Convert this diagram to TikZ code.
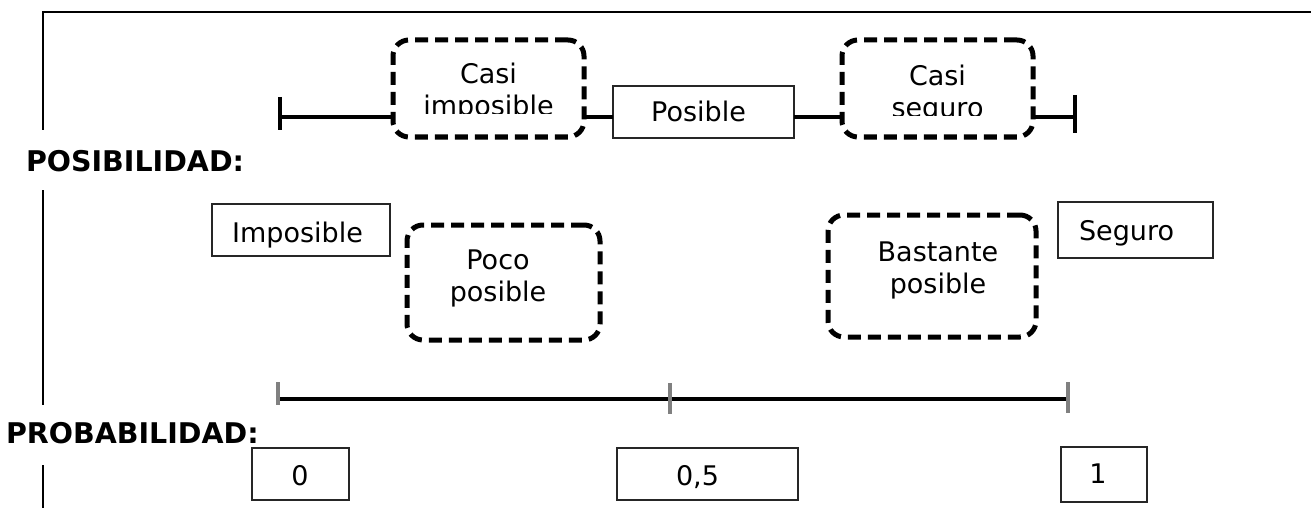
\documentclass[tikz,border=0pt]{standalone}
\usepackage{fontspec}
\setmainfont{DejaVu Sans}
\begin{document}
\begin{tikzpicture}[x=1pt,y=-1pt,
  every node/.style={inner sep=0pt, outer sep=0pt},
  plainbox/.style={draw=black!85, line width=1.6pt},
  dashbox/.style={draw=black, line width=5pt, dash pattern=on 13pt off 7pt, rounded corners=16pt},
  boxtext/.style={font=\fontsize{27}{32}\selectfont, align=center},
  heading/.style={font=\fontsize{28.5}{32}\selectfont\bfseries},
  scaleline/.style={line width=3.5pt},
  blacktick/.style={line width=4pt},
  graytick/.style={draw=gray, line width=3.5pt},
  framestyle/.style={line width=2.5pt}]
\useasboundingbox (0,0) rectangle (1311,508);

% frame around the two scales
\draw[framestyle] (43,130) -- (43,12) -- (1311,12);
\draw[framestyle] (43,190) -- (43,405);
\draw[framestyle] (43,465) -- (43,508);

% headings
\node[heading, anchor=base west] (hpos) at (26,171) {POSIBILIDAD:};
\node[heading, anchor=base west] (hprob) at (6,443) {PROBABILIDAD:};

% --- possibility scale ---
\coordinate (tl) at (280,117);
\coordinate (tr) at (1075,117);
\node[dashbox, minimum width=191pt, minimum height=97pt] (ci) at (488.5,88.5) {};
\node[plainbox, minimum width=181pt, minimum height=52pt] (pos) at (703.5,112) {};
\node[dashbox, minimum width=191pt, minimum height=97pt] (cs) at (937.5,88.5) {};
\draw[blacktick] (280,97) -- (280,130);
\draw[blacktick] (1075,95) -- (1075,133);
\draw[scaleline] (tl) -- (tl -| ci.west);
\draw[scaleline] (ci.east |- tl) -- (tl -| pos.west);
\draw[scaleline] (pos.east |- tl) -- (tl -| cs.west);
\draw[scaleline] (cs.east |- tl) -- (tr);

\begin{scope}
  \clip (393,40) rectangle (584,114);
  \node[boxtext] (citext) at (488.5,92) {Casi\\imposible};
\end{scope}
\begin{scope}
  \clip (842,40) rectangle (1033,116);
  \node[boxtext] (cstext) at (937.5,94) {Casi\\seguro};
\end{scope}
\node[boxtext, anchor=base] (postext) at (698.5,122) {Posible};

% possibility labels below the scale
\node[plainbox, minimum width=178pt, minimum height=52pt] (imp) at (301,230) {};
\node[boxtext, anchor=base] (imptext) at (297.5,242) {Imposible};
\node[dashbox, minimum width=193pt, minimum height=115pt] (pp) at (503.5,282.5) {};
\node[boxtext] (pptext) at (498,278) {Poco\\posible};
\node[dashbox, minimum width=208pt, minimum height=122pt] (bp) at (932,276) {};
\node[boxtext] (bptext) at (938,270.5) {Bastante\\posible};
\node[plainbox, minimum width=155pt, minimum height=56pt] (seg) at (1135.5,230) {};
\node[boxtext, anchor=base] (segtext) at (1126.5,240) {Seguro};

% --- probability scale ---
\coordinate (bl) at (278,399);
\coordinate (bm) at (670,399);
\coordinate (br) at (1068,399);
\draw[scaleline] (bl) -- (br);
\draw[graytick] (278,382) -- (278,405);
\draw[graytick] (670,383) -- (670,414);
\draw[graytick] (1068,382) -- (1068,413);

\node[plainbox, minimum width=97pt, minimum height=52pt] (p0) at (300.5,474) {};
\node[boxtext, anchor=base] (p0text) at (300,485) {0};
\node[plainbox, minimum width=181pt, minimum height=52pt] (p05) at (707.5,474) {};
\node[boxtext, anchor=base] (p05text) at (697.5,485) {0,5};
\node[plainbox, minimum width=86pt, minimum height=55pt] (p1) at (1104,474.5) {};
\node[boxtext, anchor=base] (p1text) at (1098,483) {1};
\end{tikzpicture}
\end{document}
